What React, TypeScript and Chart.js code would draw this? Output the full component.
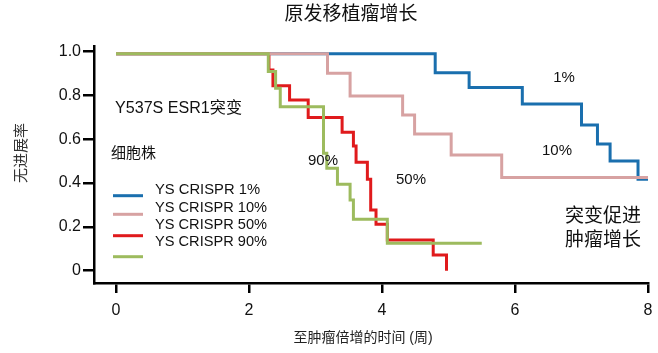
import React, { useEffect, useRef } from 'react';
import { Chart, registerables } from 'chart.js';

Chart.register(...registerables);

const FONT = '"Liberation Sans", Arial, "Noto Sans CJK SC", sans-serif';

const seriesLabels = ['YS CRISPR 1%', 'YS CRISPR 10%', 'YS CRISPR 50%', 'YS CRISPR 90%'];
const seriesColors = ['#1a6fae', '#d7a2a2', '#e01a1c', '#9dbb5e'];
const seriesOrder = [3, 1, 2, 0];

const times1 = [0, 4.80, 5.31, 6.11, 7.00, 7.24, 7.43, 7.85, 8.0];
const surv1 = [0.99, 0.904, 0.837, 0.761, 0.665, 0.579, 0.501, 0.417, 0.417];

const times10 = [0, 3.18, 3.52, 4.31, 4.49, 5.04, 5.80, 8.0];
const surv10 = [0.99, 0.901, 0.798, 0.711, 0.624, 0.528, 0.426, 0.426];

const times50 = [0, 2.30, 2.36, 2.61, 2.89, 3.40, 3.57, 3.61, 3.78, 3.83, 3.91, 4.08, 4.77, 4.97];
const surv50 = [0.99, 0.916, 0.845, 0.779, 0.699, 0.632, 0.569, 0.495, 0.417, 0.277, 0.212, 0.140, 0.072, 0];

const times90 = [0, 2.29, 2.40, 2.47, 3.12, 3.17, 3.33, 3.52, 3.57, 4.08, 5.50];
const surv90 = [0.99, 0.909, 0.833, 0.749, 0.536, 0.468, 0.395, 0.323, 0.235, 0.125, 0.125];

const xTicks = [0, 2, 4, 6, 8];
const yTicks = [0, 0.2, 0.4, 0.6, 0.8, 1.0];

const titleText = '原发移植瘤增长';
const xTitle = '至肿瘤倍增的时间 (周)';
const yTitle = '无进展率';
const noteMutation = 'Y537S ESR1突变';
const noteCells = '细胞株';
const curveTags = ['1%', '10%', '50%', '90%'];
const sideNote = ['突变促进', '肿瘤增长'];

const seriesTimes = [times1, times10, times50, times90];
const seriesSurv = [surv1, surv10, surv50, surv90];

function drawFit(ctx: CanvasRenderingContext2D, text: string, x: number, y: number, width: number) {
  const w = ctx.measureText(text).width;
  const sx = w > 0 ? width / w : 1;
  ctx.save();
  ctx.translate(x, y);
  ctx.scale(sx, 1);
  ctx.fillText(text, 0, 0);
  ctx.restore();
}

const annotationPlugin = {
  id: 'annotations',
  afterDraw(chart: any) {
    const ctx = chart.ctx as CanvasRenderingContext2D;
    ctx.save();
    ctx.textBaseline = 'middle';

    // main title
    ctx.fillStyle = '#111';
    ctx.font = `19px ${FONT}`;
    ctx.textAlign = 'center';
    ctx.fillText(titleText, 351, 15);

    // x title
    ctx.font = `14px ${FONT}`;
    ctx.fillStyle = '#222';
    ctx.fillText(xTitle, 363, 338);

    // y title
    ctx.save();
    ctx.translate(22, 153);
    ctx.rotate(-Math.PI / 2);
    ctx.font = `15px ${FONT}`;
    ctx.fillStyle = '#333';
    ctx.fillText(yTitle, 0, 0);
    ctx.restore();

    // notes
    ctx.textAlign = 'left';
    ctx.fillStyle = '#111';
    ctx.font = `16px ${FONT}`;
    drawFit(ctx, noteMutation, 115, 109, 127);
    ctx.font = `15px ${FONT}`;
    ctx.fillText(noteCells, 111, 154);

    // legend
    const lineYs = [195.7, 214.3, 235.7, 256.7];
    const textYs = [190.5, 208, 225, 242.5];
    const textWs = [105, 112, 112, 112];
    for (let i = 0; i < seriesLabels.length; i++) {
      ctx.strokeStyle = seriesColors[i];
      ctx.lineWidth = 3;
      ctx.beginPath();
      ctx.moveTo(113, lineYs[i]);
      ctx.lineTo(143, lineYs[i]);
      ctx.stroke();
      ctx.fillStyle = '#111';
      ctx.font = `14px ${FONT}`;
      drawFit(ctx, seriesLabels[i], 155, textYs[i], textWs[i]);
    }

    // curve tags
    ctx.textAlign = 'center';
    ctx.font = `15px ${FONT}`;
    const tagPos = [[564, 78], [557, 151], [411, 180], [323, 161]];
    curveTags.forEach((t, i) => ctx.fillText(t, tagPos[i][0], tagPos[i][1]));

    // side note
    ctx.font = `19px ${FONT}`;
    ctx.fillText(sideNote[0], 603, 217);
    ctx.fillText(sideNote[1], 603, 241);

    ctx.restore();
  },
};

export default function App() {
  const ref = useRef<HTMLCanvasElement | null>(null);

  useEffect(() => {
    document.body.style.margin = '0';
    if (!ref.current) return;
    const datasets = seriesLabels.map((label, i) => ({
      label,
      data: seriesTimes[i].map((t, j) => ({ x: t, y: seriesSurv[i][j] })),
      borderColor: seriesColors[i],
      backgroundColor: seriesColors[i],
      borderWidth: 3,
      stepped: true as const,
      pointRadius: 0,
      fill: false,
      order: seriesOrder[i],
      borderCapStyle: 'butt' as const,
      borderJoinStyle: 'miter' as const,
    }));

    const chart = new Chart(ref.current, {
      type: 'line',
      data: { datasets },
      plugins: [annotationPlugin],
      options: {
        animation: false,
        responsive: false,
        maintainAspectRatio: false,
        layout: { padding: { left: 0, right: 10, top: 46.6, bottom: 0 } },
        plugins: {
          legend: { display: false },
          tooltip: { enabled: false },
          title: { display: false },
        },
        scales: {
          x: {
            type: 'linear',
            min: -0.331,
            max: 8,
            afterBuildTicks: (s: any) => {
              s.ticks = xTicks.map((v) => ({ value: v }));
            },
            afterFit: (s: any) => {
              s.height = 70;
              s.paddingLeft = 0;
              s.paddingRight = 0;
            },
            grid: {
              drawOnChartArea: false,
              drawTicks: true,
              tickLength: 10,
              color: '#000',
              lineWidth: 2.5,
            },
            border: { display: true, color: '#000', width: 2.5 },
            ticks: {
              font: { size: 16, family: FONT },
              color: '#111',
              padding: 8,
              maxRotation: 0,
              callback: (v: any) => String(v),
            },
          },
          y: {
            type: 'linear',
            min: -0.0562,
            max: 1.0232,
            afterBuildTicks: (s: any) => {
              s.ticks = yTicks.map((v) => ({ value: v }));
            },
            afterFit: (s: any) => {
              s.width = 94;
              s.paddingTop = 0;
              s.paddingBottom = 0;
            },
            grid: {
              drawOnChartArea: false,
              drawTicks: true,
              tickLength: 11,
              color: '#000',
              lineWidth: 2.5,
            },
            border: { display: true, color: '#000', width: 2.5 },
            ticks: {
              font: { size: 16, family: FONT },
              color: '#111',
              padding: 2,
              callback: (v: any) => (Number(v) === 0 ? '0' : Number(v).toFixed(1)),
            },
          },
        },
      },
    });
    return () => chart.destroy();
  }, []);

  return (
    <div style={{ width: 658, height: 353, background: '#fff' }}>
      <canvas ref={ref} width={658} height={353} style={{ display: 'block' }} />
    </div>
  );
}
